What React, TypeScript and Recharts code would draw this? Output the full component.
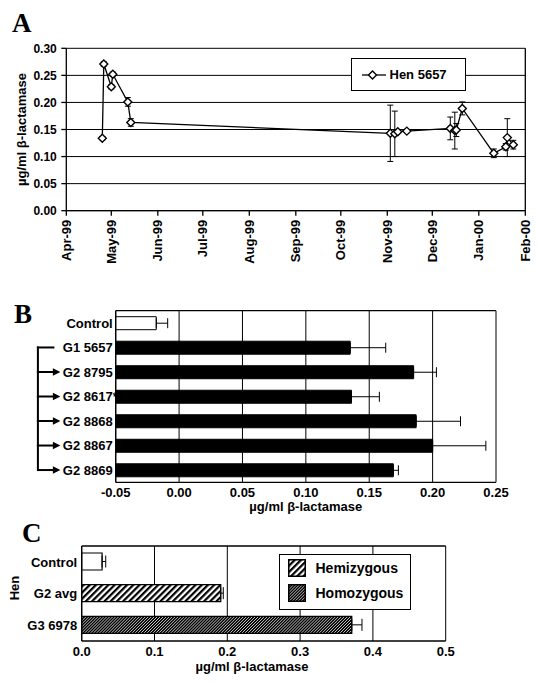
import React from 'react';
import {
  ComposedChart, Line, XAxis, YAxis, CartesianGrid, ErrorBar, Legend,
  ReferenceLine, BarChart, Bar, Cell,
} from 'recharts';

const SANS = '"Liberation Sans", Arial, Helvetica, sans-serif';
const SERIF = '"Liberation Serif", "Times New Roman", serif';
const INK = '#000';

// Panel A — hen 5657 over time
const henDates = [
  '1999-04-25', '1999-04-26', '1999-05-01', '1999-05-02', '1999-05-12', '1999-05-14',
  '1999-11-03', '1999-11-06', '1999-11-08', '1999-11-14',
  '1999-12-13', '1999-12-16', '1999-12-17', '1999-12-21',
  '2000-01-11', '2000-01-19', '2000-01-20', '2000-01-24',
];
const henValues = [
  0.134, 0.271, 0.229, 0.252, 0.201, 0.163,
  0.143, 0.142, 0.146, 0.147,
  0.152, 0.148, 0.149, 0.189,
  0.106, 0.118, 0.135, 0.122,
];
const henErrors = [
  0.003, 0.004, 0.004, 0.004, 0.008, 0.007,
  0.052, 0.042, 0.003, 0.003,
  0.021, 0.034, 0.012, 0.012,
  0.008, 0.006, 0.035, 0.008,
];
const monthDates = [
  '1999-04-01', '1999-05-01', '1999-06-01', '1999-07-01', '1999-08-01', '1999-09-01',
  '1999-10-01', '1999-11-01', '1999-12-01', '2000-01-01', '2000-02-01',
];
const monthLabels = ['Apr-99', 'May-99', 'Jun-99', 'Jul-99', 'Aug-99', 'Sep-99', 'Oct-99', 'Nov-99', 'Dec-99', 'Jan-00', 'Feb-00'];
const aTicks = [0, 0.05, 0.1, 0.15, 0.2, 0.25, 0.3];

// Panel B — founder and G2 offspring
const bHens = ['Control', 'G1 5657', 'G2 8795', 'G2 8617*', 'G2 8868', 'G2 8867', 'G2 8869'];
const bValues = [-0.018, 0.135, 0.185, 0.136, 0.187, 0.2, 0.169];
const bErrTops = [-0.009, 0.163, 0.203, 0.158, 0.222, 0.242, 0.173];
const bTicks = [-0.05, 0, 0.05, 0.1, 0.15, 0.2, 0.25];

// Panel C — hemizygous vs homozygous
const cHens = ['Control', 'G2 avg', 'G3 6978'];
const cValues = [0.028, 0.191, 0.371];
const cErrTops = [0.033, 0.1945, 0.385];
const cFills = ['#fff', 'url(#hemi)', 'url(#homo)'];
const cTicks = [0, 0.1, 0.2, 0.3, 0.4, 0.5];
const cLegend = ['Hemizygous', 'Homozygous'];
const cLegendFills = ['url(#hemi)', 'url(#homo)'];

const toDay = (s: string) => Date.parse(s + 'T00:00:00Z') / 86400000;
const monthDays = monthDates.map(toDay);
const henData = henDates.map((d, i) => ({ day: toDay(d), value: henValues[i], err: henErrors[i] }));
const bData = bHens.map((hen, i) => ({ hen, span: [bTicks[0], bValues[i]], err: [0, bErrTops[i] - bValues[i]] }));
const cData = cHens.map((hen, i) => ({ hen, value: cValues[i], err: [0, cErrTops[i] - cValues[i]] }));

const bold = { fontFamily: SANS, fontWeight: 'bold' as const, fill: INK };
const axisStroke = { stroke: INK, strokeWidth: 1.3 };
const B_BAND = 171.6 / bHens.length;

const Diamond = ({ cx, cy }: any) =>
  cx == null || cy == null ? null : (
    <path d={`M${cx},${cy - 4}L${cx + 4},${cy}L${cx},${cy + 4}L${cx - 4},${cy}Z`} fill="#fff" stroke={INK} strokeWidth={1.4} />
  );

const MonthTick = ({ x, y, payload, index }: any) => (
  <text x={x} y={y} transform={`rotate(-90 ${x} ${y})`} textAnchor="end" dy="0.36em" fontSize={13} {...bold}>
    {monthLabels[payload?.index ?? index]}
  </text>
);

const TitleA = ({ viewBox }: any) => (
  <text x={26} y={viewBox.y + viewBox.height / 2} transform={`rotate(-90 26 ${viewBox.y + viewBox.height / 2})`} textAnchor="middle" fontSize={13} {...bold}>
    µg/ml  β-lactamase
  </text>
);

const HenLegend = ({ payload }: any) => (
  <div style={{ width: 115, height: 33, boxSizing: 'border-box', border: '1.5px solid #000', background: '#fff', position: 'relative', fontFamily: SANS, fontWeight: 'bold', fontSize: 13 }}>
    <svg width={36} height={30} style={{ position: 'absolute', left: 0, top: 0 }}>
      <line x1={10} y1={16} x2={34} y2={16} stroke={INK} strokeWidth={1.3} />
      <Diamond cx={20.5} cy={16} />
    </svg>
    <span style={{ position: 'absolute', left: 37.5, top: 8, lineHeight: '16px', whiteSpace: 'nowrap' }}>
      {payload?.[0]?.value ?? 'Hen 5657'}
    </span>
  </div>
);

const BandTick = ({ x, y, payload }: any) => {
  const i = payload.index;
  const label: string = payload.value;
  const star = label.endsWith('*');
  const bx = x - 74.8;
  return (
    <g>
      <text x={x} y={y} dy="0.36em" textAnchor="end" fontSize={13} {...bold}>{star ? label.slice(0, -1) : label}</text>
      {star && <text x={x} y={y} dy="0.36em" textAnchor="start" fontSize={13} {...bold}>*</text>}
      {i === 1 && <line x1={bx} y1={y} x2={bx + 15.5} y2={y} stroke={INK} strokeWidth={2} strokeLinecap="square" />}
      {i > 1 && (
        <g>
          <line x1={bx} y1={y - B_BAND} x2={bx} y2={y} stroke={INK} strokeWidth={2} strokeLinecap="square" />
          <line x1={bx} y1={y} x2={bx + 17} y2={y} stroke={INK} strokeWidth={2} />
          <path d={`M${bx + 15},${y - 3.8}L${bx + 22.5},${y}L${bx + 15},${y + 3.8}Z`} fill={INK} />
        </g>
      )}
    </g>
  );
};

const TitleB = ({ viewBox }: any) => (
  <text x={viewBox.x + viewBox.width / 2} y={viewBox.y + 28.8} textAnchor="middle" fontSize={13} {...bold}>
    µg/ml β-lactamase
  </text>
);

const HenTickC = ({ x, y, payload }: any) => (
  <text x={x} y={y} dy="0.36em" textAnchor="end" fontSize={13} {...bold}>{payload.value}</text>
);

const TitleC = ({ viewBox }: any) => (
  <g>
    <text x={252} y={viewBox.y + 30.4} textAnchor="middle" fontSize={13} {...bold}>µg/ml β-lactamase</text>
    <text x={18.5} y={58} transform="rotate(-90 18.5 58)" textAnchor="middle" fontSize={13} {...bold}>Hen</text>
  </g>
);

const ZygosityLegend = () => (
  <div style={{ width: 131.4, height: 55.7, boxSizing: 'border-box', border: '1.5px solid #000', background: '#fff', position: 'relative', fontFamily: SANS, fontWeight: 'bold', fontSize: 14 }}>
    {cLegend.map((name, i) => (
      <React.Fragment key={name}>
        <svg width={18} height={18} style={{ position: 'absolute', left: 8.2, top: 4.2 + i * 25 }}>
          <rect x={0.75} y={0.75} width={16.5} height={16.5} fill={cLegendFills[i]} stroke={INK} strokeWidth={1.5} />
        </svg>
        <span style={{ position: 'absolute', left: 35.2, top: 13.2 + i * 25 - 8, lineHeight: '16px', whiteSpace: 'nowrap' }}>{name}</span>
      </React.Fragment>
    ))}
  </div>
);

export default function App() {
  return (
    <div style={{ position: 'absolute', left: 0, top: 0, width: 538, height: 685, background: '#fff', overflow: 'hidden' }}>
      <svg width={538} height={685} style={{ position: 'absolute', left: 0, top: 0 }}>
        <defs>
          <pattern id="hemi" patternUnits="userSpaceOnUse" width={4.4} height={4.4} patternTransform="rotate(45)">
            <rect width={4.4} height={4.4} fill="#fff" />
            <rect width={2.2} height={4.4} fill="#000" />
          </pattern>
          <pattern id="homo" patternUnits="userSpaceOnUse" width={2.1} height={2.1} patternTransform="rotate(45)">
            <rect width={2.1} height={2.1} fill="#000" />
            <rect width={0.55} height={2.1} fill="#fff" />
          </pattern>
        </defs>
        <text x={12} y={31.7} fontFamily={SERIF} fontWeight="bold" fontSize={27}>A</text>
        <text x={14} y={323} fontFamily={SERIF} fontWeight="bold" fontSize={27}>B</text>
        <text x={22} y={541.5} fontFamily={SERIF} fontWeight="bold" fontSize={27}>C</text>
      </svg>

      <div style={{ position: 'absolute', left: 0, top: 0 }}>
        <ComposedChart width={538} height={270} data={henData} margin={{ top: 48.3, right: 12.7, bottom: 4.3, left: 0 }}>
          <CartesianGrid vertical={false} stroke={INK} strokeWidth={1} />
          <XAxis type="number" dataKey="day" domain={[monthDays[0], monthDays[monthDays.length - 1]]} ticks={monthDays}
            interval={0} height={55} tickSize={5} tickMargin={4} tick={<MonthTick />} axisLine={axisStroke} tickLine={axisStroke} />
          <YAxis domain={[0, 0.3]} ticks={aTicks} width={66.3} tickSize={5} tickMargin={4.5} interval={0}
            tickFormatter={(v: number) => v.toFixed(2)} tick={{ ...bold, fontSize: 12 }}
            axisLine={axisStroke} tickLine={axisStroke} label={<TitleA />} />
          <ReferenceLine x={monthDays[monthDays.length - 1]} stroke={INK} strokeWidth={1.3} />
          <Line type="linear" dataKey="value" name="Hen 5657" stroke={INK} strokeWidth={1.3}
            dot={<Diamond />} activeDot={false} isAnimationActive={false}>
            <ErrorBar dataKey="err" direction="y" width={3} stroke={INK} strokeWidth={1} />
          </Line>
          <Legend layout="vertical" align="center" verticalAlign="middle"
            wrapperStyle={{ left: 351, top: 57.5, width: 115, height: 33 }} content={<HenLegend />} />
        </ComposedChart>
      </div>

      <div style={{ position: 'absolute', left: 0, top: 290 }}>
        <BarChart layout="vertical" width={538} height={240} data={bData} barSize={13}
          margin={{ top: 19.7, right: 42, bottom: 17.7, left: 0 }}>
          <CartesianGrid horizontal={false} stroke={INK} strokeWidth={1} />
          <XAxis type="number" domain={[bTicks[0], bTicks[bTicks.length - 1]]} ticks={bTicks} interval={0}
            height={30} tickSize={0} tickMargin={5} tickLine={false} axisLine={axisStroke}
            tickFormatter={(v: number) => v.toFixed(2)} tick={{ ...bold, fontSize: 13 }} label={<TitleB />} />
          <XAxis xAxisId="top" orientation="top" type="number" domain={[bTicks[0], bTicks[bTicks.length - 1]]}
            ticks={bTicks} height={1} tick={false} tickLine={false} axisLine={axisStroke} />
          <YAxis type="category" dataKey="hen" width={115.7} tickSize={0} tickMargin={3} interval={0}
            tickLine={false} axisLine={axisStroke} tick={<BandTick />} />
          <Bar dataKey="span" isAnimationActive={false} stroke={INK} strokeWidth={1}>
            {bData.map((d, i) => <Cell key={d.hen} fill={i === 0 ? '#fff' : INK} />)}
            <ErrorBar dataKey="err" direction="x" width={5} stroke={INK} strokeWidth={1} />
          </Bar>
        </BarChart>
      </div>

      <div style={{ position: 'absolute', left: 0, top: 530 }}>
        <BarChart layout="vertical" width={538} height={155} data={cData} barSize={17}
          margin={{ top: 15, right: 92.3, bottom: 14, left: 0 }}>
          <CartesianGrid horizontal={false} stroke={INK} strokeWidth={1} />
          <XAxis type="number" domain={[cTicks[0], cTicks[cTicks.length - 1]]} ticks={cTicks} interval={0}
            height={30} tickSize={0} tickMargin={6} tickLine={false} axisLine={axisStroke}
            tickFormatter={(v: number) => v.toFixed(1)} tick={{ ...bold, fontSize: 13 }} label={<TitleC />} />
          <XAxis xAxisId="top" orientation="top" type="number" domain={[cTicks[0], cTicks[cTicks.length - 1]]}
            ticks={cTicks} height={1} tick={false} tickLine={false} axisLine={axisStroke} />
          <YAxis type="category" dataKey="hen" width={81.7} tickSize={0} tickMargin={4.5} interval={0}
            tickLine={false} axisLine={axisStroke} tick={<HenTickC />} />
          <Bar dataKey="value" isAnimationActive={false} stroke={INK} strokeWidth={1.2}>
            {cData.map((d, i) => <Cell key={d.hen} fill={cFills[i]} />)}
            <ErrorBar dataKey="err" direction="x" width={6} stroke={INK} strokeWidth={1} />
          </Bar>
          <Legend layout="vertical" align="center" verticalAlign="middle"
            wrapperStyle={{ left: 279.3, top: 24.3, width: 131.4, height: 55.7 }} content={<ZygosityLegend />} />
        </BarChart>
      </div>
    </div>
  );
}
